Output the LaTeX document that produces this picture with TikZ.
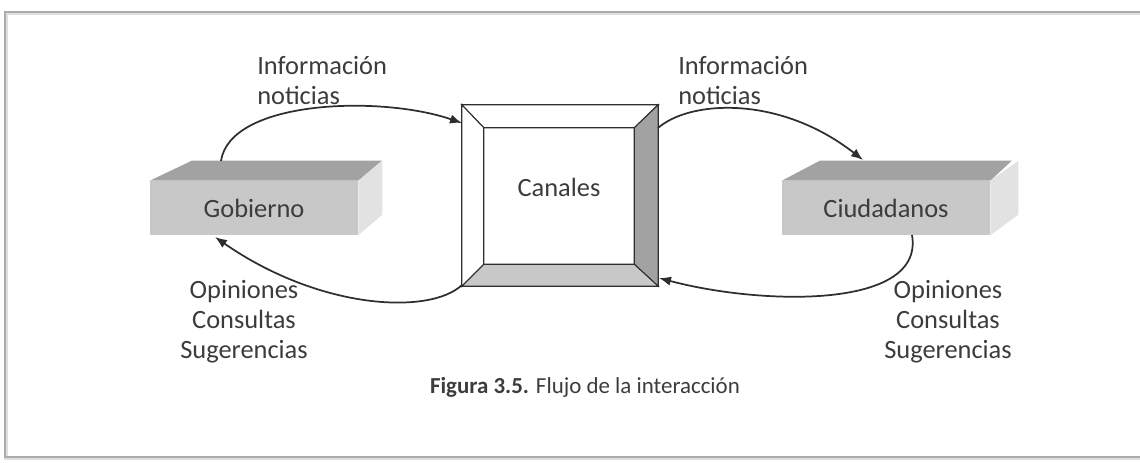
\documentclass[tikz,border=0pt]{standalone}
\usepackage{fontspec}
\setmainfont{Carlito}
\usetikzlibrary{arrows.meta}
\definecolor{txt}{HTML}{3C3C3C}
\definecolor{frontg}{HTML}{C8C8C8}
\definecolor{topg}{HTML}{A2A2A2}
\definecolor{sideg}{HTML}{E2E2E2}
\definecolor{lineg}{HTML}{2E2E2E}
\tikzset{
  lbl/.style={font=\fontsize{19.8pt}{22.5pt}\selectfont, text=txt, inner sep=0pt},
  front/.style={fill=frontg, draw=none, inner sep=0pt, minimum width=156pt, minimum height=40.5pt, lbl},
  topface/.style={fill=topg, draw=none},
  sideface/.style={fill=sideg, draw=none},
  flow/.style={draw=lineg, line width=1.3pt, -{Latex[length=9pt,width=7pt]}},
  bevel/.style={draw=lineg, line width=0.8pt}
}
\begin{document}
\begin{tikzpicture}[x=0.75pt,y=-0.75pt]
\useasboundingbox (0,0) rectangle (1140,462);
% frame
\draw[gray!25, line width=2.5pt] (1150,13) -- (6,13) -- (6,458) -- (1150,458);
\draw[gray!65, line width=0.8pt] (1150,12) -- (5,12) -- (5,457) -- (1150,457);

% Gobierno box
\node[front] (gob) at (254,208) {Gobierno};
\fill[topg] (gob.north west) -- ++(42,-20) -- ++(190,0) -- (gob.north east) -- cycle;
\fill[sideg] (gob.north east) -- ++(24,-20) -- ++(0,54) -- (gob.south east) -- cycle;

% Ciudadanos box
\node[front] (ciu) at (886,208) {Ciudadanos};
\fill[topg] (ciu.north west) -- ++(38,-20) -- ++(192,0) -- (ciu.north east) -- cycle;
\fill[sideg] (ciu.north east) -- ++(28,-20) -- ++(0,54) -- (ciu.south east) -- cycle;

% Canales box
\node[draw=none, minimum width=147pt, minimum height=135.75pt, inner sep=0pt] (can) at (560,195.5) {};
\node[draw=none, minimum width=112.5pt, minimum height=102pt, inner sep=0pt] (cin) at (559,196) {};
\filldraw[fill=white, bevel] (can.north west) -- (can.north east) -- (cin.north east) -- (cin.north west) -- cycle;
\filldraw[fill=white, bevel] (can.north west) -- (cin.north west) -- (cin.south west) -- (can.south west) -- cycle;
\filldraw[fill=topg, bevel] (can.north east) -- (can.south east) -- (cin.south east) -- (cin.north east) -- cycle;
\filldraw[fill=frontg, bevel] (can.south west) -- (cin.south west) -- (cin.south east) -- (can.south east) -- cycle;
\draw[bevel] (can.north west) rectangle (can.south east);
\draw[bevel] (cin.north west) rectangle (cin.south east);
\node[lbl] (canlbl) at (559,187) {Canales};

% labels
\node[lbl, align=left, anchor=west] (infoL) at (257,81) {Información\\noticias};
\node[lbl, align=left, anchor=west] (infoR) at (678,81) {Información\\noticias};
\node[lbl, align=center] (opL) at (244,322) {Opiniones\\Consultas\\Sugerencias};
\node[lbl, align=center] (opR) at (948,322) {Opiniones\\Consultas\\Sugerencias};
\node[font=\fontsize{17.2pt}{20pt}\selectfont, text=txt, inner sep=0pt] (cap) at (585,387) {\textbf{Figura 3.5.} Flujo de la interacción};

% connectors
\coordinate (g1) at (221,161);
\coordinate (c1) at (462,123);
\coordinate (c2) at (658,128);
\coordinate (u1) at (863,160);
\coordinate (u2) at (912,235);
\coordinate (c3) at (659,278);
\coordinate (c4) at (462,285);
\coordinate (g2) at (215,237);
\draw[flow] (g1) .. controls (230,100) and (380,95) .. (c1);
\draw[flow] (c2) .. controls (690,100) and (780,95) .. (u1);
\draw[flow] (u2) .. controls (925,310) and (760,305) .. (c3);
\draw[flow] (c4) .. controls (430,315) and (320,310) .. (g2);
\end{tikzpicture}
\end{document}
